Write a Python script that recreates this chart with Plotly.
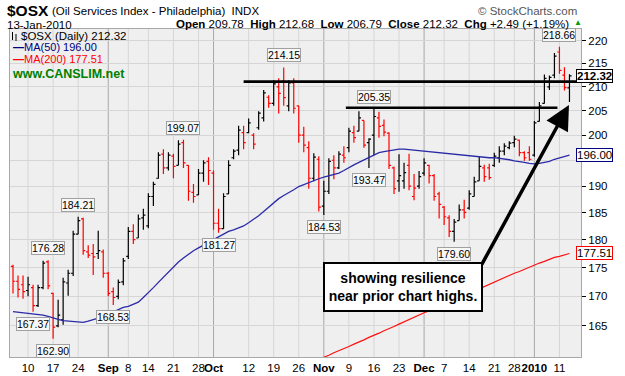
import math
import plotly.graph_objects as go

FONT = "Liberation Sans, Arial, sans-serif"

# ---------------- data ----------------
month_days = [
    ("2009-08", [5, 6, 7, 10, 11, 12, 13, 14, 17, 18, 19, 20, 21, 24, 25, 26, 27, 28, 31]),
    ("2009-09", [1, 2, 3, 4, 8, 9, 10, 11, 14, 15, 16, 17, 18, 21, 22, 23, 24, 25, 28, 29, 30]),
    ("2009-10", [1, 2, 5, 6, 7, 8, 9, 12, 13, 14, 15, 16, 19, 20, 21, 22, 23, 26, 27, 28, 29, 30]),
    ("2009-11", [2, 3, 4, 5, 6, 9, 10, 11, 12, 13, 16, 17, 18, 19, 20, 23, 24, 25, 27, 30]),
    ("2009-12", [1, 2, 3, 4, 7, 8, 9, 10, 11, 14, 15, 16, 17, 18, 21, 22, 23, 24, 28, 29, 30, 31]),
    ("2010-01", [4, 5, 6, 7, 8, 11, 12, 13]),
]
dates = [f"{m}-{d:02d}" for m, ds in month_days for d in ds]

opens = [175.2, 172.6, 172.0, 171.0, 171.5, 168.4, 171.5, 176.0, 170.5, 165.0,
         166.0, 172.3, 174.0, 181.0, 183.8, 177.8, 177.5, 177.5, 177.8, 174.0,
         170.8, 170.0, 172.5, 177.0, 181.5, 180.3, 184.0, 182.5, 188.0, 191.5,
         196.2, 193.5, 195.8, 194.0, 198.5, 194.0, 188.8, 188.3, 192.5, 194.8,
         192.5, 183.0, 182.0, 188.5, 195.5, 197.0, 200.5, 200.5, 200.0, 201.5,
         203.5, 207.8, 206.5, 210.0, 211.2, 206.0, 210.8, 206.0, 200.0, 197.5,
         191.5, 195.2, 186.2, 189.0, 195.0, 193.5, 196.0, 197.5, 200.5, 200.8,
         203.0, 198.5, 200.0, 203.5, 202.0, 200.4, 193.5, 191.0, 191.0, 194.0,
         188.0, 190.0, 192.5, 194.0, 192.0, 188.5, 186.0, 184.0, 181.5, 183.5,
         185.5, 185.8, 188.0, 191.0, 193.5, 193.5, 194.0, 195.5, 196.8, 197.5,
         198.5, 199.0, 196.5, 196.5, 196.0, 202.8, 206.5, 210.0, 212.5, 217.5,
         212.5, 209.78]
highs = [175.5, 173.6, 173.6, 173.4, 172.0, 172.0, 176.2, 176.28, 170.6, 169.4,
         173.2, 174.6, 181.6, 184.21, 184.0, 179.0, 179.2, 181.6, 178.2, 174.2,
         171.5, 172.9, 176.7, 182.3, 182.8, 184.6, 185.7, 188.6, 190.8, 196.6,
         197.2, 196.6, 196.3, 199.0, 199.07, 194.0, 190.4, 193.3, 195.0, 195.6,
         193.0, 185.7, 188.6, 195.0, 197.2, 201.9, 201.9, 203.4, 200.4, 204.9,
         209.3, 208.2, 211.4, 211.8, 214.15, 211.4, 211.8, 206.0, 201.7, 198.8,
         196.4, 195.8, 191.0, 195.4, 196.0, 196.8, 197.8, 201.5, 201.9, 204.9,
         203.0, 199.4, 205.35, 204.8, 203.2, 200.6, 193.8, 196.2, 194.5, 196.3,
         192.3, 192.9, 195.4, 194.1, 192.3, 188.9, 186.2, 184.5, 183.8, 186.5,
         187.4, 189.2, 191.8, 195.7, 194.1, 194.3, 196.5, 197.8, 198.4, 198.8,
         199.9, 199.1, 196.8, 197.8, 202.9, 206.8, 212.6, 212.4, 217.3, 218.66,
         214.2, 212.68]
lows = [170.5, 169.8, 169.6, 170.0, 167.37, 168.2, 171.2, 171.2, 162.90, 164.8,
        165.2, 170.1, 173.5, 181.0, 177.3, 176.7, 173.7, 176.5, 173.2, 170.0,
        168.53, 169.5, 171.9, 176.5, 179.2, 180.3, 181.8, 182.1, 186.2, 191.4,
        192.3, 193.0, 191.5, 194.0, 193.5, 187.2, 186.8, 188.3, 190.8, 190.2,
        181.8, 181.27, 182.0, 188.5, 195.2, 196.0, 197.2, 200.4, 197.2, 201.1,
        202.8, 205.6, 206.0, 204.4, 206.0, 204.9, 204.4, 198.5, 196.6, 189.5,
        190.9, 185.2, 184.53, 188.5, 191.3, 193.3, 194.5, 196.6, 198.5, 200.8,
        197.5, 193.47, 196.0, 199.5, 199.8, 193.3, 188.5, 188.9, 189.5, 189.2,
        187.3, 189.5, 192.0, 190.5, 187.2, 183.9, 182.7, 180.5, 179.60, 183.5,
        183.9, 185.5, 188.0, 191.0, 190.8, 191.2, 193.7, 194.5, 196.0, 197.2,
        197.6, 195.8, 194.9, 194.9, 195.7, 202.8, 206.5, 209.3, 211.8, 212.8,
        209.2, 206.79]
closes = [172.6, 171.2, 170.8, 172.0, 168.4, 171.5, 175.8, 171.8, 164.8, 166.8,
          172.5, 174.0, 181.0, 183.5, 178.0, 177.2, 176.9, 178.0, 174.0, 170.5,
          169.8, 172.4, 176.2, 181.5, 180.0, 183.8, 184.5, 188.0, 190.3, 196.0,
          193.5, 196.0, 193.8, 198.2, 194.5, 189.0, 188.0, 192.5, 194.5, 193.0,
          183.0, 182.0, 188.0, 194.0, 196.8, 201.0, 198.5, 202.5, 198.2, 204.5,
          208.7, 206.5, 210.6, 208.6, 207.7, 210.8, 205.5, 200.0, 198.0, 191.5,
          195.6, 186.0, 189.0, 194.8, 193.5, 196.2, 195.5, 200.8, 199.5, 203.5,
          198.0, 199.2, 203.8, 201.8, 200.6, 194.0, 189.5, 192.0, 192.6, 190.0,
          189.6, 191.8, 194.5, 192.0, 188.0, 186.5, 184.2, 181.5, 183.2, 185.5,
          185.0, 188.5, 190.8, 193.8, 191.8, 191.6, 195.8, 196.8, 197.8, 198.4,
          199.2, 196.5, 195.5, 195.2, 202.5, 206.0, 211.8, 212.0, 216.6, 213.5,
          209.83, 212.32]

ma50 = [167.4, 167.3, 167.3, 167.2, 167.1, 167.0, 166.8, 166.6, 166.3, 166.1,
        165.9, 165.8, 165.7, 165.6, 165.6, 165.8, 166.0, 166.3, 166.6, 167.0,
        167.4, 167.7, 168.1, 168.3, 168.6, 169.0, 169.8, 170.6, 171.5, 172.4,
        173.3, 174.2, 175.1, 176.0, 176.7, 177.4, 178.0, 178.5, 179.0, 179.5,
        180.0, 180.5, 181.0, 181.5, 181.8, 182.1, 182.5, 183.1, 183.7, 184.4,
        185.2, 186.0, 186.8, 187.6, 188.2, 188.7, 189.3, 189.9, 190.3, 190.7,
        191.1, 191.4, 191.7, 192.0, 192.2, 192.5, 193.0, 193.6, 194.1, 194.6,
        195.1, 195.6, 196.1, 196.5, 196.7, 196.9, 197.1, 197.2, 197.2, 197.1,
        197.0, 196.9, 196.8, 196.7, 196.6, 196.5, 196.4, 196.3, 196.1, 196.0,
        195.9, 195.8, 195.7, 195.6, 195.5, 195.5, 195.5, 195.4, 195.3, 195.1,
        194.9, 194.8, 194.6, 194.4, 194.3, 194.4, 194.6, 194.8, 195.2, 195.5,
        195.8, 196.0]
ma200 = [None] * 60 + [
        159.2, 159.5, 159.9, 160.2, 160.6, 160.9, 161.3, 161.6, 162.0, 162.3,
        162.7, 163.1, 163.4, 163.8, 164.2, 164.5, 164.9, 165.3, 165.7, 166.0,
        166.4, 166.8, 167.2, 167.5, 167.9, 168.3, 168.7, 169.0, 169.4, 169.8,
        170.2, 170.6, 170.9, 171.3, 171.7, 172.1, 172.5, 172.8, 173.2, 173.6,
        174.0, 174.3, 174.7, 175.1, 175.4, 175.8, 176.1, 176.5, 176.8, 177.0,
        177.3, 177.51]

high_label_idx = [7, 13, 34, 54, 72, 109]
low_label_idx = [4, 8, 20, 41, 62, 71, 88]

tick_dates = ["2009-08-10", "2009-08-17", "2009-08-24", "2009-09-01", "2009-09-08",
              "2009-09-14", "2009-09-21", "2009-09-28", "2009-10-01", "2009-10-12",
              "2009-10-19", "2009-10-26", "2009-11-02", "2009-11-09", "2009-11-16",
              "2009-11-23", "2009-12-01", "2009-12-07", "2009-12-14", "2009-12-21",
              "2009-12-28", "2010-01-04", "2010-01-11"]
tick_text = ["10", "17", "24", "<b>Sep</b>", "8", "14", "21", "28", "<b>Oct</b>", "12",
             "19", "26", "<b>Nov</b>", "9", "16", "23", "<b>Dec</b>", "7", "14", "21",
             "28", "<b>2010</b>", "11"]
month_dates = ["2009-09-01", "2009-10-01", "2009-11-02", "2009-12-01", "2010-01-04"]
y_ticks = [165, 170, 175, 180, 185, 190, 195, 200, 205, 210, 215, 220]
y_tick_text = ["165", "170", "175", "180", "185", "190", "", "200", "205", "210", "215", "220"]

# resistance lines drawn on the chart: level, from-date index, to-date index
resist_levels = [211.1, 205.6]
resist_from = [46.0, 66.4]
resist_to = [113.3, 108.6]

# ---------------- figure ----------------
n = len(dates)
idx = list(range(n))
L_PX, R_PX, T_PX, B_PX = 10, 581, 29, 357
W_PX, H_PX = R_PX - L_PX, B_PX - T_PX


def px(x):
    return (x - L_PX) / W_PX


def py(y):
    return (B_PX - y) / H_PX


up = [i for i in idx if (closes[i] >= closes[i - 1] if i > 0 else closes[i] >= opens[i])]
dn = [i for i in idx if i not in up]

fig = go.Figure()

# vertical gridlines
for d in tick_dates:
    c = "#A8A8A8" if d in month_dates else "#D6D6D6"
    xi = dates.index(d)
    fig.add_shape(type="line", x0=xi, x1=xi, y0=0, y1=1, xref="x", yref="paper",
                  line=dict(color=c, width=1), layer="below")

fig.add_trace(go.Scatter(x=idx, y=ma200, mode="lines", line=dict(color="#FF1010", width=1.2),
                         hoverinfo="skip"))
fig.add_trace(go.Scatter(x=idx, y=ma50, mode="lines", line=dict(color="#2A2AA8", width=1.3),
                         hoverinfo="skip"))

for ids, col in ((dn, "#FF0000"), (up, "#000000")):
    fig.add_trace(go.Ohlc(
        x=ids,
        open=[opens[i] for i in ids], high=[highs[i] for i in ids],
        low=[lows[i] for i in ids], close=[closes[i] for i in ids],
        increasing=dict(line=dict(color=col, width=1.2)),
        decreasing=dict(line=dict(color=col, width=1.2)),
        tickwidth=0.42, hoverinfo="skip"))

for lv, a, b in zip(resist_levels, resist_from, resist_to):
    fig.add_trace(go.Scatter(x=[a, b], y=[lv, lv], mode="lines",
                             line=dict(color="#000000", width=2.6), hoverinfo="skip"))

# high / low value labels
for i in high_label_idx:
    fig.add_annotation(x=i, y=math.log10(highs[i]), text=f"{highs[i]:.2f}", showarrow=False,
                       yanchor="bottom", yshift=5, font=dict(size=10.5, family=FONT, color="#000"),
                       bgcolor="#F7F7F7", bordercolor="#A0A0A0", borderwidth=1, borderpad=0)
for i in low_label_idx:
    fig.add_annotation(x=i, y=math.log10(lows[i]), text=f"{lows[i]:.2f}", showarrow=False,
                       yanchor="top", yshift=-5, font=dict(size=10.5, family=FONT, color="#000"),
                       bgcolor="#F7F7F7", bordercolor="#A0A0A0", borderwidth=1, borderpad=0)

# right-side price tags
tags = [(closes[-1], "<b>212.32</b>", "#000000", 11.5),
        (ma50[-1], f"{ma50[-1]:.2f}", "#000080", 11.5),
        (ma200[-1], f"{ma200[-1]:.2f}", "#FF0000", 11.5)]
for val, txt, bc, fs in tags:
    fig.add_annotation(x=px(576), xref="paper", y=math.log10(val), yref="y", text=txt,
                       showarrow=False, xanchor="left", yanchor="middle",
                       font=dict(size=fs, family=FONT, color="#000"), bgcolor="#FFFFFF",
                       bordercolor=bc, borderwidth=1, borderpad=0)

# header texts
hdr = [
    (5, 10, "<b>$OSX</b>", 15.5, "#000", "left"),
    (50, 11, "(Oil Services Index - Philadelphia)  INDX", 11.5, "#000", "left"),
    (579, 11, "© StockCharts.com", 11.5, "#555", "right"),
    (5, 25, "13-Jan-2010", 11.5, "#000", "left"),
    (571, 24, "<b>Open</b> 209.78  <b>High</b> 212.68  <b>Low</b> 206.79  <b>Close</b> 212.32  "
              "<b>Chg</b> +2.49 (+1.19%)", 11.5, "#000", "right"),
    (572, 23, "▲", 8, "#00A000", "left"),
]
for x, y, t, fs, col, anc in hdr:
    fig.add_annotation(x=px(x), y=py(y), xref="paper", yref="paper", text=t, showarrow=False,
                       xanchor=anc, yanchor="middle", font=dict(size=fs, family=FONT, color=col))

# legend inside plot
leg = [
    (19, 36, "$OSX (Daily) 212.32", "#000", 11.5),
    (11, 47, "<b>—</b>MA(50) 196.00", "#000080", 11),
    (11, 59, "<b>—</b>MA(200) 177.51", "#FF0000", 11),
    (10, 74, "<b>www.CANSLIM.net</b>", "#008000", 12.5),
]
for x, y, t, col, fs in leg:
    fig.add_annotation(x=px(x), y=py(y), xref="paper", yref="paper", text=t, showarrow=False,
                       xanchor="left", yanchor="middle", font=dict(size=fs, family=FONT, color=col))
# small OHLC glyph of the legend
for gx, gy0, gy1 in ((12.5, 32, 40), (16, 34, 41)):
    fig.add_shape(type="line", x0=px(gx), x1=px(gx), y0=py(gy0), y1=py(gy1), xref="paper",
                  yref="paper", line=dict(color="#000", width=1))

# callout box and arrow
fig.add_annotation(x=px(403), y=py(286.5), xref="paper", yref="paper",
                   text="<b>showing resilience<br>near prior chart highs.</b>", showarrow=False,
                   xanchor="center", yanchor="middle", width=152, height=42,
                   font=dict(size=14, family=FONT, color="#000"), bgcolor="#FFFFFF",
                   bordercolor="#000000", borderwidth=2, borderpad=2)
fig.add_annotation(x=110.9, y=math.log10(206.2), ax=-88, ay=161, text="", showarrow=True,
                   arrowhead=2, arrowsize=1.4, arrowwidth=3.5, arrowcolor="#000")

fig.update_layout(
    width=625, height=376, margin=dict(l=L_PX, r=625 - R_PX, t=T_PX, b=376 - B_PX),
    paper_bgcolor="#FFFFFF", plot_bgcolor="#EFEFEF", showlegend=False,
    xaxis=dict(range=[-0.6, 113.3], tickvals=[dates.index(d) for d in tick_dates],
               ticktext=tick_text, tickangle=0, automargin=False, showgrid=False,
               zeroline=False, showline=True, mirror=True,
               linecolor="#A8A8A8", ticks="", rangeslider=dict(visible=False),
               tickfont=dict(size=11.5, family=FONT, color="#000")),
    yaxis=dict(type="log", range=[math.log10(159.91), math.log10(222.6)], side="right",
               automargin=False,
               tickvals=y_ticks, ticktext=y_tick_text, showgrid=True,
               gridcolor="#D6D6D6", zeroline=False, showline=True, mirror=True,
               linecolor="#A8A8A8", ticks="outside", ticklen=4, tickcolor="#000",
               tickfont=dict(size=11.5, family=FONT, color="#000")),
)

fig.write_html("out.html", config={"displayModeBar": False},
               post_script="document.body.style.margin='0px';")
